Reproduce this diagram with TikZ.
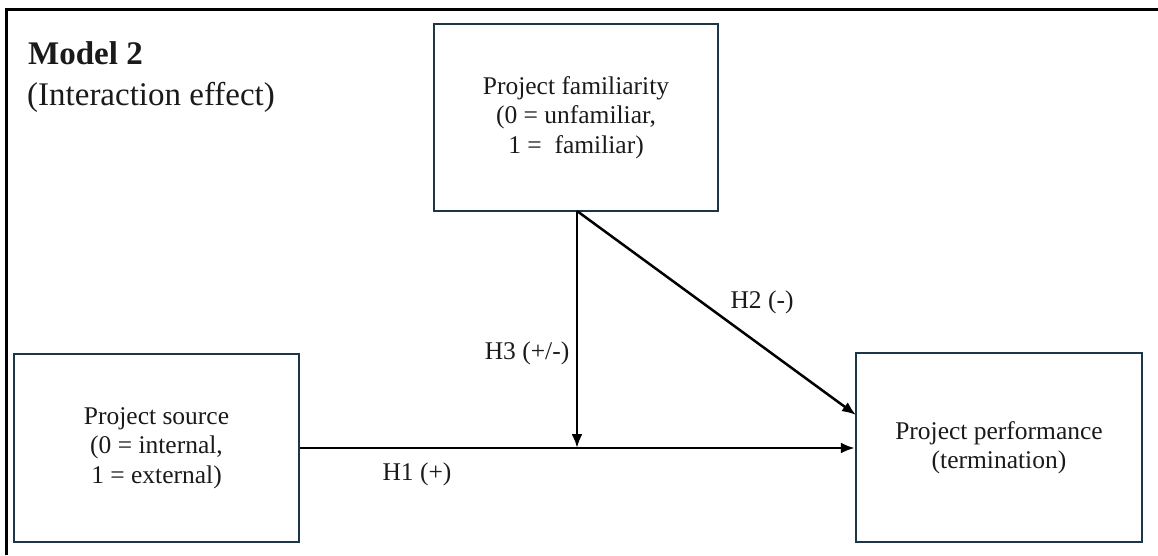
\documentclass[tikz,border=0pt]{standalone}
\usepackage{fontspec}
\setmainfont{Liberation Serif}
\usetikzlibrary{arrows.meta}
\definecolor{boxline}{HTML}{1C3547}
\definecolor{txt}{HTML}{1A1A1A}
\begin{document}
\begin{tikzpicture}[x=1pt,y=-1pt,
  varbox/.style={draw=boxline,line width=2.5pt,inner sep=0pt,align=center,text=txt,
    font=\fontsize{25.5}{29.5}\selectfont},
  link/.style={draw=black,line width=2.5pt,-{Latex[length=14pt,width=11pt]}},
  lbl/.style={text=txt,font=\fontsize{25.5}{29.5}\selectfont,inner sep=0pt}]
\useasboundingbox (0,0) rectangle (1158,555);
\draw[line width=3pt,black] (6,555) -- (6,9) -- (1158,9);
\node[font=\bfseries\fontsize{33}{38}\selectfont,anchor=west,inner sep=0pt,text=txt] (model) at (28,53) {Model 2};
\node[font=\fontsize{33}{38}\selectfont,anchor=west,inner sep=0pt,text=txt] (sub) at (27,97) {(Interaction effect)};
\node[varbox,minimum width=284pt,minimum height=187pt] (fam) at (576,117.5)
  {Project familiarity\\(0 = unfamiliar,\\1 =\ \ familiar)};
\node[varbox,minimum width=285pt,minimum height=188pt] (src) at (156.5,448)
  {Project source\\(0 = internal,\\1 = external)};
\node[varbox,minimum width=286pt,minimum height=189pt] (perf) at (999,447.5)
  {Project performance\\(termination)};
\coordinate (famb) at (577,211);
\coordinate (mid) at (577,448);
\coordinate (perfin) at (856,415);
\draw[link] (src.east |- mid) -- (perf.west |- mid);
\draw[link] (famb) -- (mid);
\draw[link] (famb) -- (perfin);
\node[lbl] (h1) at (417,474) {H1 (+)};
\node[lbl] (h2) at (762,302) {H2 (-)};
\node[lbl] (h3) at (527,353) {H3 (+/-)};
\end{tikzpicture}
\end{document}
